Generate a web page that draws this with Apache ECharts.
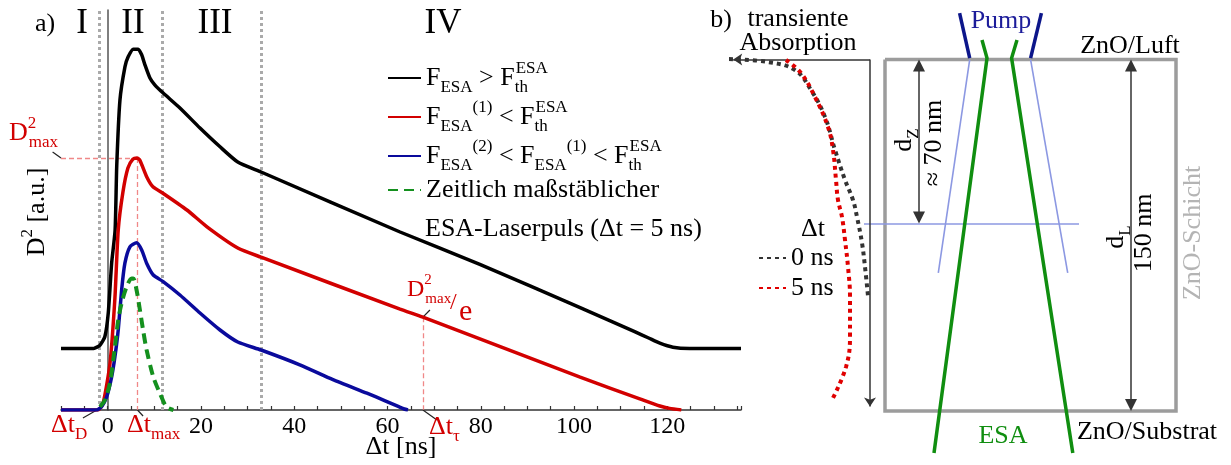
<!DOCTYPE html>
<html>
<head>
<meta charset="utf-8">
<title>ESA D2</title>
<script src="https://cdn.jsdelivr.net/npm/echarts@6.0.0/dist/echarts.min.js"></script>
<style>
  html, body { margin: 0; padding: 0; background: #fff; }
  #main { width: 1231px; height: 465px; }
</style>
</head>
<body>
<div id="main"></div>
<script>
var SERIF = '"Liberation Serif", "DejaVu Serif", serif';

// ---- a) D^2 over delay  [dt in ns, D^2 in a.u.]
var curveAbove = [[-10,15.4],[-3,15.4],[-1.65,16.2],[-0.6,18.3],[0.13,24.2],[0.86,36.7],[1.6,45],[1.95,61],[2.64,77.5],[3.71,85.8],[4.4,88.3],[5.5,90.2],[6.55,90.2],[7.3,88.8],[8.0,86.3],[9.07,83],[10.1,81.3],[11.85,79.3],[15.5,75.5],[19.8,70.5],[24.1,65.8],[27.9,62],[32.9,59.5],[62.7,44.5],[79.8,36.4],[101.3,25.6],[113,19.6],[116,18],[118.4,16.7],[121.2,15.7],[124.8,15.4],[135.8,15.4]];
var curveBelow1 = [[-10,0],[-2.1,0],[-1.0,1.6],[0.49,11.5],[1.56,28],[2.27,45],[3.28,54.5],[4.35,60.5],[5.42,62.7],[6.28,63],[6.92,62.4],[8.42,58.2],[9.71,55.8],[11.85,54.2],[17,50],[21.3,45.8],[27.9,40.5],[32.9,38.2],[62.7,25.2],[67.6,23.2],[101.3,8.2],[114.1,2.8],[118.4,1.0],[120.5,0.4],[123,0]];
var curveBelow2 = [[-10,0],[-2.4,0],[-1.3,0.8],[-0.2,3.3],[0.86,8.3],[1.56,13.3],[2.27,20],[3.0,30],[3.7,36.7],[4.78,40.8],[6.2,41.8],[7.3,40],[8.36,36.7],[9.78,33.75],[11.9,32.1],[15.5,28.75],[19.8,24.25],[24.1,20],[27.9,17],[32.9,15],[41.2,11.3],[48.3,7.6],[55.6,4.2],[59.5,2.3],[62.3,0.9],[63.6,0.25],[64.4,0]];
var esaPulse = [[-1.65,0.8],[-0.6,2.5],[0.49,6.75],[1.56,15.8],[2.27,22.5],[3.0,26.75],[4.07,30.8],[5.14,32.9],[5.5,32.9],[6.2,30],[6.92,25],[7.6,20],[8.36,15],[9.78,8.3],[11.2,4.2],[12.6,0.8],[14.1,0]];
var regionBounds = [-1.8, 11.8, 32.9];
var peakRed = [6.28, 63];      // dt_max, D^2_max
var tauRed = [67.6, 23.2];     // dt_tau, D^2_max / e
var leaderLines = [
  [[-11.8, 64.5], [-10, 63]],
  [[-5.3, -2], [-2.3, 0]],
  [[6.4, 0], [7.6, -1.5]],
  [[67.6, 0], [70.6, -2.5]],
  [[67.6, 23.2], [69.1, 25]]
];

// ---- b) layer schematic  [lateral position (a.u.), depth in nm]
var layerRect = [[185,0],[476,0],[476,150],[185,150],[185,0]];
var pumpIn = [[[259.6,-19.8],[269.7,-0.6]], [[341.4,-19.8],[330.6,-0.6]]];
var pumpLayer = [[[269.7,0],[238.3,91.1]], [[330.6,0],[367.7,91.1]]];
var depthMark = [[164,70],[379,70]];
var esaBeams = [[[282,-8.3],[287,-0.6],[234,167.9]], [[317,-8.3],[311.6,-0.6],[372.8,167.9]]];
var absCorner = [170, 0];
var absAxisEnd = [28.7, 150];
var dZ = {x: 219, depth: 70};
var dL = {x: 431, depth: 150};
var abs0ns = [[29,-0.2],[68,1.07],[95,4.5],[111,13],[125,24.5],[135,38.6],[145,51.4],[153,60],[157,67.2],[162,78.3],[165,88.5],[168,100.9]];
var abs5ns = [[86,0.2],[101,5.8],[115,16],[128,28.8],[133,38.6],[136,51.4],[138,60],[142,67.2],[145,77],[148,88.5],[150,101.4],[150,118.4],[146,131.2],[132,145.3]];

var gridB = {left: 700, top: 0, width: 531, height: 465};
var bMin = -25.4, bMax = 173.05;
var pxPerNm = gridB.height / (bMax - bMin);
var triSize = 12, arrSize = 9;
var triInset = triSize / 2 / pxPerNm;
var arrInset = arrSize / 2 / pxPerNm;

function rich(size, color) {
  var sub = Math.round(size * 0.64);
  return {
    m:   {fontSize: size, fontFamily: SERIF, lineHeight: size + 10, color: color, fill: color},
    sb:  {fontSize: sub, fontFamily: SERIF, lineHeight: sub + 2, verticalAlign: 'bottom', color: color, fill: color},
    sb0: {fontSize: sub, fontFamily: SERIF, lineHeight: sub + 2, verticalAlign: 'bottom', width: 1, color: color, fill: color},
    sp:  {fontSize: sub, fontFamily: SERIF, lineHeight: sub, verticalAlign: 'top', color: color, fill: color},
    sp0: {fontSize: sub, fontFamily: SERIF, lineHeight: sub, verticalAlign: 'top', width: 1, color: color, fill: color}
  };
}

function label(x, y, text, o) {
  o = o || {};
  var color = o.color || '#000';
  var size = o.size || 26;
  return {
    type: 'text', x: x, y: y, rotation: o.rot || 0, z: 100,
    style: {
      text: text, fill: color, fontSize: size, fontFamily: SERIF,
      align: o.align || 'center', verticalAlign: 'middle',
      rich: rich(size, color)
    }
  };
}

var legendText = {
  'above': '{m|F}{sb|ESA}{m| > F}{sb0|th}{sp|ESA}',
  'below1': '{m|F}{sb|ESA}{sp|(1)}{m| < F}{sb0|th}{sp|ESA}',
  'below2': '{m|F}{sb|ESA}{sp|(2)}{m| < F}{sb|ESA}{sp|(1)}{m| < F}{sb0|th}{sp|ESA}',
  'pulse': '{m|Zeitlich maßstäblicher}'
};

var RED = '#d20000';
var PINK = '#f08888';

var chart = echarts.init(document.getElementById('main'));

var option = {
  animation: false,
  backgroundColor: '#fff',
  grid: [
    {left: 61, top: 10, width: 680, height: 400, outerBoundsMode: 'none'},
    {left: gridB.left, top: gridB.top, width: gridB.width, height: gridB.height, outerBoundsMode: 'none'}
  ],
  xAxis: [
    {
      gridIndex: 0, type: 'value', min: -10, max: 135.8, interval: 5,
      name: 'Δt [ns]', nameLocation: 'middle', nameGap: 24, nameMoveOverlap: false,
      nameTextStyle: {fontSize: 26, fontFamily: SERIF, color: '#000', lineHeight: 26},
      axisLine: {lineStyle: {color: '#333', width: 1.5}},
      axisTick: {inside: true, length: 4, lineStyle: {color: '#333', width: 1.2}},
      axisLabel: {
        margin: 5, fontSize: 24, fontFamily: SERIF, color: '#000', lineHeight: 24, hideOverlap: false,
        formatter: function (v) {
          return (v >= 0 && v <= 120 && Math.abs(v % 20) < 1e-6) ? String(v) : '';
        }
      },
      splitLine: {show: false}
    },
    {gridIndex: 1, type: 'value', min: 0, max: gridB.width, show: false}
  ],
  yAxis: [
    {
      gridIndex: 0, type: 'value', min: 0, max: 100,
      axisLine: {show: true, lineStyle: {color: '#555', width: 1.5}},
      axisTick: {show: false}, axisLabel: {show: false}, splitLine: {show: false}
    },
    {gridIndex: 1, type: 'value', min: bMin, max: bMax, inverse: true, show: false}
  ],
  legend: [
    {
      data: ['above', 'below1', 'below2', 'pulse'],
      orient: 'vertical', left: 387, top: 60, padding: 0,
      itemWidth: 33, itemHeight: 10, itemGap: 3,
      itemStyle: {opacity: 0},
      formatter: function (name) { return legendText[name]; },
      textStyle: {color: '#000', fontSize: 26, fontFamily: SERIF, rich: rich(26, '#000')}
    },
    {
      data: ['0 ns', '5 ns'],
      orient: 'vertical', left: 758, top: 245, padding: 0,
      itemWidth: 27, itemHeight: 10, itemGap: 4,
      itemStyle: {opacity: 0},
      textStyle: {color: '#000', fontSize: 26, fontFamily: SERIF, lineHeight: 26}
    }
  ],
  series: [
    // region boundaries
    {
      type: 'lines', coordinateSystem: 'cartesian2d', xAxisIndex: 0, yAxisIndex: 0, z: 1, silent: true,
      lineStyle: {color: '#aaa', width: 3, type: [3, 3], opacity: 1},
      data: regionBounds.map(function (x) { return {coords: [[x, 0], [x, 100]]}; })
    },
    // D^2_max guides
    {
      type: 'lines', coordinateSystem: 'cartesian2d', xAxisIndex: 0, yAxisIndex: 0, z: 2, silent: true,
      lineStyle: {color: PINK, width: 1.3, type: [5, 3], opacity: 1},
      data: [
        {coords: [[-10, peakRed[1]], [peakRed[0], peakRed[1]]]},
        {coords: [[peakRed[0], peakRed[1]], [peakRed[0], 0]]},
        {coords: [[tauRed[0], tauRed[1]], [tauRed[0], 0]]}
      ]
    },
    // label leaders
    {
      type: 'lines', coordinateSystem: 'cartesian2d', xAxisIndex: 0, yAxisIndex: 0, z: 2, silent: true, clip: false,
      lineStyle: {color: '#222', width: 1.2, opacity: 1},
      data: leaderLines.map(function (c) { return {coords: c}; })
    },
    {name: 'above', type: 'line', xAxisIndex: 0, yAxisIndex: 0, data: curveAbove, smooth: 0.2,
     symbol: 'none', z: 3, lineStyle: {color: '#000', width: 3.5}, itemStyle: {color: '#000'}},
    {name: 'below1', type: 'line', xAxisIndex: 0, yAxisIndex: 0, data: curveBelow1, smooth: 0.2,
     symbol: 'none', z: 3, lineStyle: {color: RED, width: 3.5}, itemStyle: {color: RED}},
    {name: 'below2', type: 'line', xAxisIndex: 0, yAxisIndex: 0, data: curveBelow2, smooth: 0.2,
     symbol: 'none', z: 3, lineStyle: {color: '#0a0a9c', width: 3.5}, itemStyle: {color: '#0a0a9c'}},
    {name: 'pulse', type: 'line', xAxisIndex: 0, yAxisIndex: 0, data: esaPulse, smooth: 0.3,
     symbol: 'none', z: 4, lineStyle: {color: '#14901e', width: 4, type: [10, 6]}, itemStyle: {color: '#14901e'}},

    // ---- panel b
    {
      type: 'lines', coordinateSystem: 'cartesian2d', xAxisIndex: 1, yAxisIndex: 1, polyline: true, z: 2, silent: true,
      lineStyle: {color: '#9c9c9c', width: 3.5, opacity: 1},
      data: [{coords: layerRect}]
    },
    {
      type: 'lines', coordinateSystem: 'cartesian2d', xAxisIndex: 1, yAxisIndex: 1, z: 3, silent: true,
      lineStyle: {color: '#8c98e2', width: 1.6, opacity: 1},
      data: pumpLayer.map(function (c) { return {coords: c}; }).concat([{coords: depthMark}])
    },
    {
      type: 'lines', coordinateSystem: 'cartesian2d', xAxisIndex: 1, yAxisIndex: 1, z: 4, silent: true,
      lineStyle: {color: '#0c168a', width: 3.5, opacity: 1},
      data: pumpIn.map(function (c) { return {coords: c}; })
    },
    {
      type: 'lines', coordinateSystem: 'cartesian2d', xAxisIndex: 1, yAxisIndex: 1, polyline: true, z: 4, silent: true,
      lineStyle: {color: '#108e10', width: 3.5, opacity: 1},
      data: esaBeams.map(function (c) { return {coords: c}; })
    },
    // absorption axes
    {
      type: 'lines', coordinateSystem: 'cartesian2d', xAxisIndex: 1, yAxisIndex: 1, z: 5, silent: true,
      symbol: ['none', 'arrow'], symbolSize: arrSize,
      lineStyle: {color: '#333', width: 1.5, opacity: 1},
      data: [
        {coords: [absCorner, [absAxisEnd[0] + arrSize / 2, absCorner[1]]]},
        {coords: [absCorner, [absCorner[0], absAxisEnd[1] - arrInset]]}
      ]
    },
    // depth arrows
    {
      type: 'lines', coordinateSystem: 'cartesian2d', xAxisIndex: 1, yAxisIndex: 1, z: 5, silent: true,
      symbol: ['triangle', 'triangle'], symbolSize: triSize,
      lineStyle: {color: '#333', width: 1.5, opacity: 1},
      data: [
        {coords: [[dZ.x, triInset], [dZ.x, dZ.depth - triInset]]},
        {coords: [[dL.x, triInset], [dL.x, dL.depth - triInset]]}
      ]
    },
    {name: '0 ns', type: 'line', xAxisIndex: 1, yAxisIndex: 1, data: abs0ns, smooth: 0.4, symbol: 'none', z: 6,
     lineStyle: {color: '#333', width: 4, type: [4, 4]}, itemStyle: {color: '#333'}},
    {name: '5 ns', type: 'line', xAxisIndex: 1, yAxisIndex: 1, data: abs5ns, smooth: 0.4, symbol: 'none', z: 6,
     lineStyle: {color: '#e00000', width: 4, type: [4, 4]}, itemStyle: {color: '#e00000'}}
  ],
  graphic: [
    label(45, 24, 'a)'),
    label(82, 24, 'I', {size: 35}),
    label(133, 24, 'II', {size: 35}),
    label(215, 24, 'III', {size: 35}),
    label(443, 24, 'IV', {size: 35}),
    label(37, 212, '{m|D}{sp|2}{m| [a.u.]}', {rot: Math.PI / 2}),
    label(9, 133, '{m|D}{sp0|2}{sb|max}', {color: RED, align: 'left'}),
    label(51, 425, '{m|Δt}{sb|D}', {color: RED, align: 'left'}),
    label(127, 425, '{m|Δt}{sb|max}', {color: RED, align: 'left'}),
    label(429, 427, '{m|Δt}{sb|τ}', {color: RED, align: 'left'}),
    label(407, 290, '{m|D}{sp0|2}{sb|max}', {color: RED, align: 'left', size: 24}),
    label(450, 303, '/', {color: RED, align: 'left', size: 24}),
    label(459, 312, 'e', {color: RED, align: 'left', size: 30}),
    label(425, 229, 'ESA-Laserpuls (Δt = 5 ns)', {align: 'left'}),

    label(721, 20, 'b)'),
    label(798, 19, 'transiente'),
    label(798, 43, 'Absorption'),
    label(1001, 21, 'Pump', {color: '#1c1c9a'}),
    label(1130, 46, 'ZnO/Luft'),
    label(1003, 436, 'ESA', {color: '#108e10'}),
    label(1147, 432, 'ZnO/Substrat'),
    label(1193, 233, 'ZnO-Schicht', {rot: Math.PI / 2, color: '#b4b4b4'}),
    label(904, 140, '{m|d}{sb|Z}', {rot: Math.PI / 2}),
    label(934, 143, '≈ 70 nm', {rot: Math.PI / 2}),
    label(1116, 237, '{m|d}{sb|L}', {rot: Math.PI / 2}),
    label(1144, 233, '150 nm', {rot: Math.PI / 2}),
    label(813, 229, 'Δt')
  ]
};

chart.setOption(option);
window.addEventListener('resize', function () { chart.resize(); });
</script>
</body>
</html>
